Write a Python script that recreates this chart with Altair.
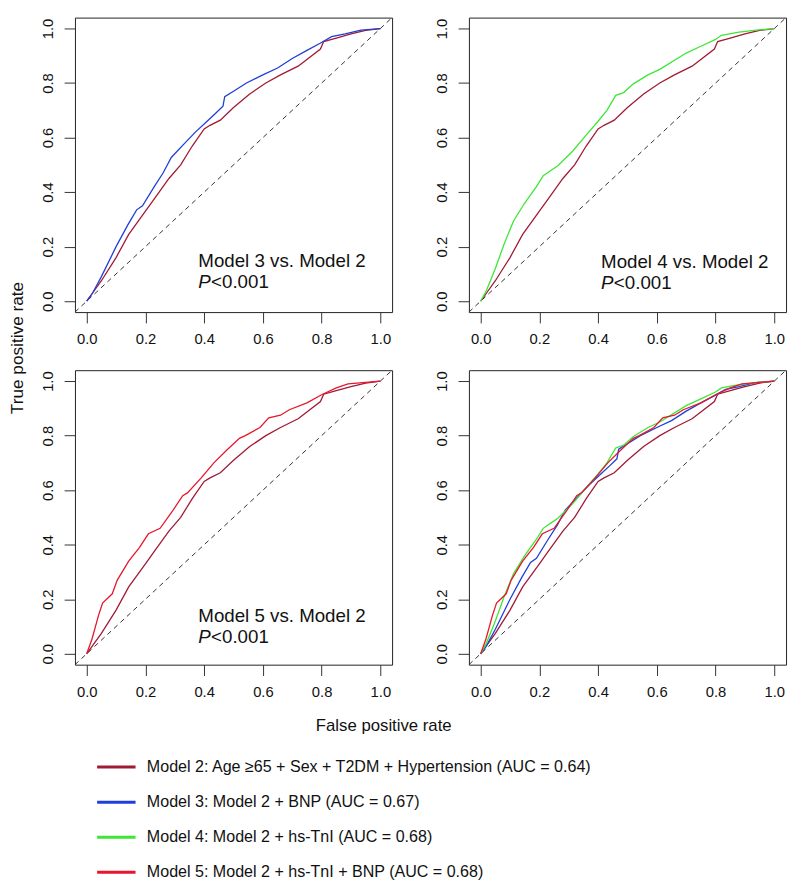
import altair as alt
import pandas as pd

FONT = "Liberation Sans"

labels = [
    "Model 2: Age \u226565 + Sex + T2DM + Hypertension (AUC = 0.64)",
    "Model 3: Model 2 + BNP (AUC = 0.67)",
    "Model 4: Model 2 + hs-TnI (AUC = 0.68)",
    "Model 5: Model 2 + hs-TnI + BNP (AUC = 0.68)",
]
colors = ["#A01A35", "#1E3FD8", "#3EE636", "#E8162C"]

m2_fpr = [0, 0.02, 0.05, 0.10, 0.143, 0.20, 0.232, 0.28, 0.32, 0.36, 0.40, 0.42, 0.455, 0.50,
          0.555, 0.61, 0.66, 0.72, 0.796, 0.807, 0.85, 0.90, 0.95, 1.0]
m2_tpr = [0, 0.03, 0.075, 0.16, 0.245, 0.33, 0.378, 0.45, 0.50, 0.57, 0.632, 0.645, 0.664, 0.71,
          0.76, 0.80, 0.83, 0.862, 0.925, 0.952, 0.965, 0.98, 0.993, 1.0]

m3_fpr = [0, 0.02, 0.05, 0.10, 0.14, 0.17, 0.19, 0.23, 0.26, 0.288, 0.33, 0.37, 0.41, 0.44,
          0.464, 0.47, 0.50, 0.544, 0.60, 0.65, 0.70, 0.75, 0.795, 0.834, 0.88, 0.934, 1.0]
m3_tpr = [0, 0.03, 0.09, 0.20, 0.28, 0.335, 0.35, 0.42, 0.47, 0.527, 0.575, 0.62, 0.66, 0.69,
          0.715, 0.75, 0.77, 0.80, 0.83, 0.855, 0.89, 0.92, 0.946, 0.97, 0.98, 0.994, 1.0]

m4_fpr = [0, 0.02, 0.05, 0.08, 0.112, 0.15, 0.19, 0.213, 0.24, 0.263, 0.313, 0.36, 0.40, 0.43,
          0.46, 0.487, 0.52, 0.57, 0.61, 0.70, 0.75, 0.80, 0.82, 0.88, 0.946, 1.0]
m4_tpr = [0, 0.04, 0.12, 0.21, 0.294, 0.36, 0.42, 0.46, 0.48, 0.497, 0.55, 0.61, 0.66, 0.70,
          0.755, 0.765, 0.797, 0.83, 0.85, 0.91, 0.935, 0.96, 0.975, 0.987, 0.995, 1.0]

m5_fpr = [0, 0.018, 0.04, 0.054, 0.087, 0.104, 0.143, 0.18, 0.21, 0.25, 0.29, 0.327, 0.343, 0.39,
          0.433, 0.48, 0.52, 0.54, 0.59, 0.62, 0.66, 0.69, 0.75, 0.80, 0.85, 0.89, 0.95, 1.0]
m5_tpr = [0, 0.054, 0.14, 0.186, 0.22, 0.27, 0.34, 0.39, 0.44, 0.46, 0.52, 0.58, 0.59, 0.645,
          0.70, 0.75, 0.79, 0.80, 0.83, 0.865, 0.875, 0.895, 0.92, 0.95, 0.975, 0.99, 0.995, 1.0]

diag_vals = [-0.04, 1.04]
tick_vals = [0, 0.2, 0.4, 0.6, 0.8, 1.0]

rows = []
for lab, fx, ty in zip(labels, [m2_fpr, m3_fpr, m4_fpr, m5_fpr], [m2_tpr, m3_tpr, m4_tpr, m5_tpr]):
    for i, (a, b) in enumerate(zip(fx, ty)):
        rows.append({"model": lab, "fpr": a, "tpr": b, "idx": i})
roc = pd.DataFrame(rows)
diag = pd.DataFrame({"fpr": diag_vals, "tpr": diag_vals})

W, H = 322, 299
xs = alt.Scale(domain=[-0.04, 1.04], nice=False, zero=False)
ys = alt.Scale(domain=[-0.04, 1.04], nice=False, zero=False)
cscale = alt.Scale(domain=labels, range=colors)


def make_x_axis(title=False):
    kw = dict(values=tick_vals, format=".1f", grid=False, domain=False, tickSize=11,
              tickColor="#333", labelPadding=9, labelFontSize=15, labelColor="#111",
              labelFont=FONT)
    if title:
        return alt.Axis(title="False positive rate", titleX=313, titleY=62, titleAngle=0,
                        titleAlign="center", titleBaseline="middle", titleFontSize=17,
                        titleFontWeight="normal", titleFont=FONT, titleColor="#111", **kw)
    return alt.Axis(title=None, **kw)


def make_y_axis(title=False):
    kw = dict(values=tick_vals, format=".1f", grid=False, domain=False, tickSize=11,
              tickColor="#333", labelPadding=9, labelFontSize=15, labelColor="#111",
              labelFont=FONT, labelAngle=270, labelAlign="center", labelBaseline="bottom")
    if title:
        return alt.Axis(title="True positive rate", titleX=-58, titleY=335, titleAngle=270,
                        titleAlign="center", titleBaseline="middle", titleFontSize=17.5,
                        titleFontWeight="normal", titleFont=FONT, titleColor="#111", **kw)
    return alt.Axis(title=None, **kw)


def panel(models, note, nx, ny, ytitle=False, xtitle=False):
    X = alt.X("fpr:Q", scale=xs, axis=make_x_axis(xtitle))
    Y = alt.Y("tpr:Q", scale=ys, axis=make_y_axis(ytitle))
    d = alt.Chart(diag).mark_line(strokeDash=[5, 4], color="#333", strokeWidth=1).encode(x=X, y=Y)
    lines = alt.Chart(roc[roc["model"].isin(models)]).mark_line(strokeWidth=1.3).encode(
        x=X, y=Y,
        color=alt.Color("model:N", scale=cscale, legend=alt.Legend(title=None)),
        order=alt.Order("idx:Q"),
    )
    layers = [d, lines]
    if note:
        ann = pd.DataFrame({"fpr": [nx], "tpr": [ny]})
        layers.append(alt.Chart(ann).mark_text(align="left", baseline="alphabetic", fontSize=19,
                                               font=FONT, color="#111", text=note).encode(x=X, y=Y))
        ann2 = pd.DataFrame({"fpr": [nx], "tpr": [ny - 0.075]})
        layers.append(alt.Chart(ann2).mark_text(align="left", baseline="alphabetic", fontSize=19,
                                                font=FONT, color="#111", fontStyle="italic",
                                                text="P").encode(x=X, y=Y))
        layers.append(alt.Chart(ann2).mark_text(align="left", baseline="alphabetic", fontSize=19,
                                                font=FONT, color="#111", dx=13,
                                                text="<0.001").encode(x=X, y=Y))
    return alt.layer(*layers).properties(width=W, height=H)


p1 = panel(labels[:2], "Model 3 vs. Model 2", 0.38, 0.125, ytitle=True)
p2 = panel([labels[0], labels[2]], "Model 4 vs. Model 2", 0.41, 0.12)
p3 = panel([labels[0], labels[3]], "Model 5 vs. Model 2", 0.38, 0.115, xtitle=True)
p4 = panel(labels, None, 0, 0)

chart = alt.concat(p1, p2, p3, p4, columns=2, spacing=alt.RowColnumber(row=59, column=78),
                   bounds="flush").resolve_scale(color="shared").resolve_legend(color="shared")

chart = chart.properties(padding=0).configure(font=FONT).configure_view(
    stroke="#222", strokeWidth=1
).configure_legend(
    orient="none", legendX=21, legendY=740, direction="vertical",
    symbolType="stroke", symbolSize=1521, symbolStrokeWidth=3,
    labelFontSize=16.3, labelFont=FONT, labelColor="#111", labelLimit=0,
    labelOffset=10, rowPadding=5.6, padding=0,
)

chart.save("out.html", embed_options={"renderer": "svg", "actions": False})
